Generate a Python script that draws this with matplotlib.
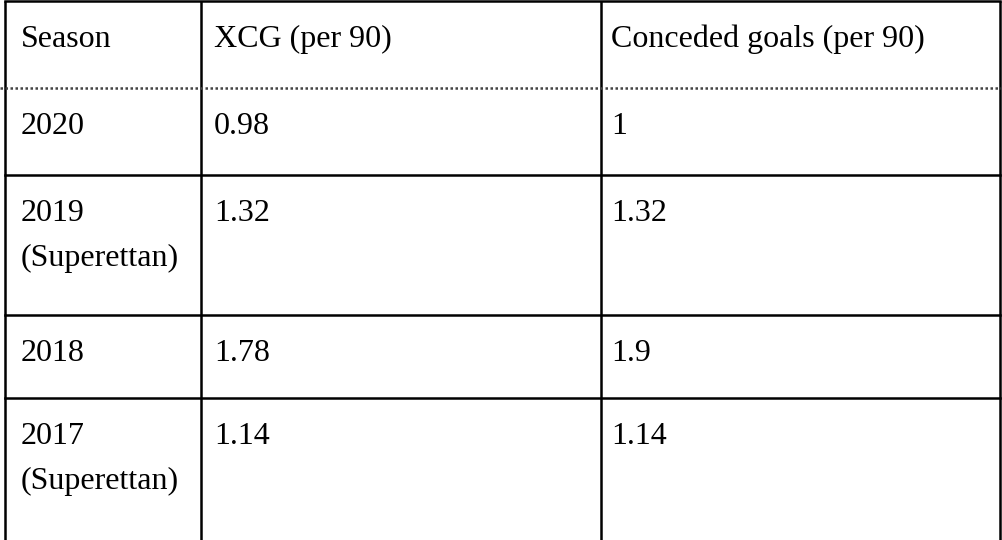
import matplotlib
matplotlib.use('Agg')
import matplotlib.pyplot as plt

# table content
headers = ['Season', 'XCG (per 90)', 'Conceded goals (per 90)']
seasons = ['2020', '2019\n(Superettan)', '2018', '2017\n(Superettan)']
xcg = ['0.98', '1.32', '1.78', '1.14']
conceded = ['1', '1.32', '1.9', '1.14']

W, H = 1002, 540
col_edges = [5, 201, 601, 1000]
text_x = [21, 214, 611]
row_edges = [1, 88, 175, 315, 398, 560]   # last row runs off the image
base_dy, line_h = 46, 45

fig = plt.figure(figsize=(W / 100, H / 100), dpi=100)
ax = fig.add_axes([0, 0, 1, 1])
ax.set_xlim(0, W)
ax.set_ylim(H, 0)
ax.axis('off')

lw = 1.8
for x in col_edges:
    ax.plot([x, x], [row_edges[0], H], color='black', lw=lw, solid_capstyle='butt')
for i, y in enumerate(row_edges[:-1]):
    if i == 1:
        ax.plot([0, W], [y, y], color='#444444', lw=lw, linestyle=(0, (1, 1)))
    else:
        ax.plot([col_edges[0], col_edges[-1]], [y, y], color='black', lw=lw,
                solid_capstyle='projecting')

font = dict(family='Liberation Serif', size=23, color='black')
rows = [headers] + [list(r) for r in zip(seasons, xcg, conceded)]
for r, row in enumerate(rows):
    top = row_edges[r]
    for c, txt in enumerate(row):
        for k, part in enumerate(txt.split('\n')):
            ax.text(text_x[c], top + base_dy + k * line_h, part,
                    ha='left', va='baseline', **font)

fig.savefig('out.png', dpi=100)
